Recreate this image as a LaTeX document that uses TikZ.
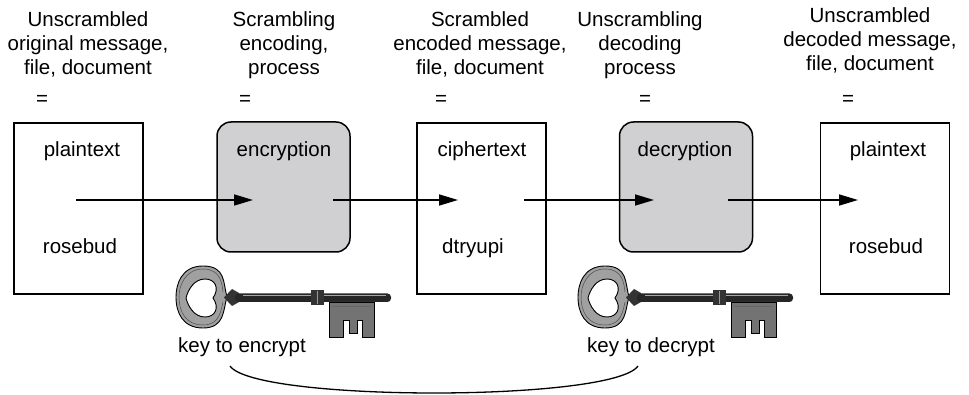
\documentclass[tikz,border=0pt]{standalone}
\usepackage{fontspec}
\setmainfont{Liberation Sans}
\usetikzlibrary{arrows.meta}
\definecolor{procgray}{RGB}{208,208,210}
\definecolor{bowgray}{RGB}{160,160,160}
\definecolor{bitgray}{RGB}{115,115,115}

% an old-fashioned key, drawn at a horizontal offset
\newcommand\drawoldkey[1]{%
  \begin{scope}[xshift=#1pt]
    % bow: ring with a heart-shaped opening
    \fill[bowgray, draw=black, line width=0.9pt, even odd rule]
      (227,297) .. controls (223,283) and (226,266) .. (203,266)
                .. controls (181,266) and (176,285) .. (176,297)
                .. controls (176,313) and (183,328) .. (203,328)
                .. controls (225,328) and (223,310) .. (227,297) -- cycle
      (213,298) .. controls (220,288) and (215,279) .. (205,279)
                .. controls (194,279) and (188,290) .. (186,298)
                .. controls (188,306) and (194,317) .. (205,317)
                .. controls (215,317) and (220,308) .. (213,298) -- cycle;
    \draw[black!70, line width=0.5pt]
      (179,297) .. controls (179,286) and (185,269) .. (203,269)
                .. controls (221,269) and (222,284) .. (223,292);
    \draw[black!70, line width=0.5pt]
      (179,297) .. controls (179,312) and (186,325) .. (203,325)
                .. controls (220,325) and (221,310) .. (223,302);
    % flare where the bow meets the shaft
    \fill[black!80] (224,297.5) -- (232,289) -- (239,293) -- (239,302) -- (232,306) -- cycle;
    % shaft with a rounded tip
    \fill[black!85, rounded corners=3.5pt] (235,293.5) rectangle (391,302);
    \draw[white!65!black, line width=0.6pt] (243,295.7) -- (386,295.7);
    % collar on the shaft
    \fill[black!80] (311,290.5) rectangle (324,305);
    \draw[white!60!black, line width=0.6pt] (317.5,291) -- (317.5,304.5);
    % bit with its wards
    \fill[bitgray, draw=black, line width=0.8pt]
      (329,302) -- (374,302) -- (374,337) -- (362,337) -- (362,320)
      -- (357,320) -- (357,333) -- (349,333) -- (349,320) -- (343,320)
      -- (343,337) -- (329,337) -- cycle;
    \draw[black!60, line width=0.5pt] (332,306) -- (371,306);
  \end{scope}}

\begin{document}
\begin{tikzpicture}[x=1pt, y=-1pt,
  txt/.style={font=\fontsize{20.5}{24}\selectfont, inner sep=0pt, anchor=base},
  head/.style={font=\fontsize{20.5}{24}\selectfont, inner sep=0pt, align=center, anchor=north},
  doc/.style={draw, line width=1.5pt, minimum width=129pt, minimum height=171pt, inner sep=0pt},
  proc/.style={draw, line width=1.5pt, fill=procgray, rounded corners=14pt,
               minimum width=133pt, minimum height=130pt, inner sep=0pt},
  flow/.style={line width=1.6pt, -{Triangle[length=19pt, width=11pt]}},
  link/.style={line width=1.3pt},
]
\useasboundingbox (0,0) rectangle (969,395);

% column headings
\node[head] (h1) at (88,11)  {Unscrambled\\original message,\\file, document};
\node[head] (h2) at (284,11) {Scrambling\\encoding,\\process};
\node[head] (h3) at (480,11) {Scrambled\\encoded message,\\file, document};
\node[head] (h4) at (640,11) {Unscrambling\\decoding\\process};
\node[head] (h5) at (870,7)  {Unscrambled\\decoded message,\\file, document};

% equals signs
\node[txt] (e1) at (42,106)  {=};
\node[txt] (e2) at (245,106) {=};
\node[txt] (e3) at (441,106) {=};
\node[txt] (e4) at (645,106) {=};
\node[txt] (e5) at (848,106) {=};

% boxes
\node[doc]  (plain)  at (78.5,208.5) {};
\node[proc] (enc)    at (283.5,187)  {};
\node[doc]  (cipher) at (481.5,208.5) {};
\node[proc] (dec)    at (686,187)    {};
\node[doc]  (plain2) at (885,208.5)  {};

% box contents
\node[txt] (pt1) at (82,157)  {plaintext};
\node[txt] (rb1) at (80,254)  {rosebud};
\node[txt] (en)  at (284,157) {encryption};
\node[txt] (ct)  at (482,157) {ciphertext};
\node[txt] (dt)  at (473,254) {dtryupi};
\node[txt] (de)  at (685,157) {decryption};
\node[txt] (pt2) at (888,157) {plaintext};
\node[txt] (rb2) at (886,254) {rosebud};

% flow arrows
\coordinate (a1s) at (76,200);  \coordinate (a1e) at (253,200);
\coordinate (a2s) at (333,200); \coordinate (a2e) at (458,200);
\coordinate (a3s) at (524,200); \coordinate (a3e) at (654,200);
\coordinate (a4s) at (728,200); \coordinate (a4e) at (858,200);
\draw[flow] (a1s) -- (a1e);
\draw[flow] (a2s) -- (a2e);
\draw[flow] (a3s) -- (a3e);
\draw[flow] (a4s) -- (a4e);

% keys
\drawoldkey{0}
\drawoldkey{402}

\node[txt] (kenc) at (242,352) {key to encrypt};
\node[txt] (kdec) at (651,352) {key to decrypt};

% the two keys are linked
\coordinate (k1) at (230,366);
\coordinate (k2) at (638,366);
\draw[link] (k1) .. controls (255,402) and (613,402) .. (k2);
\end{tikzpicture}
\end{document}
